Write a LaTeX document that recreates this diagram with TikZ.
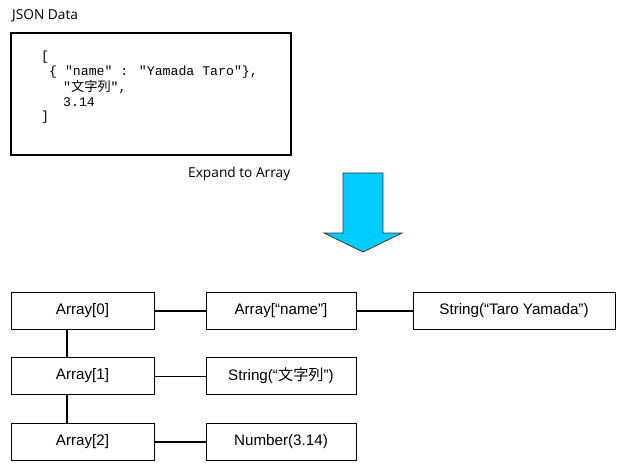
\documentclass[tikz,border=0pt]{standalone}
\usepackage{fontspec}
\setmainfont{Liberation Sans}
\newfontfamily\uifont{Open Sans}
\newfontfamily\codefont{Liberation Mono}
\newfontfamily\cjkfont{Noto Sans CJK JP}
\definecolor{arrowblue}{HTML}{00CCFF}
\tikzset{
	box/.style={draw, line width=1pt, minimum height=37pt, inner sep=0pt, font=\fontsize{15.2}{18}\selectfont},
	code/.style={anchor=west, inner sep=0pt, font=\codefont\fontsize{13.2}{15}\selectfont},
	caption/.style={anchor=west, inner sep=0pt, font=\uifont\fontsize{13.7}{16}\selectfont},
	link/.style={line width=2pt},
	thinlink/.style={line width=1pt}
}
\begin{document}
\begin{tikzpicture}[x=1pt,y=-1pt]
	\useasboundingbox (0,0) rectangle (626,473);
	% le bloc JSON
	\node[caption] (title) at (12,16) {JSON Data};
	\draw[line width=2pt] (11,33) rectangle (291,155);
	\node[code] (l1) at (41,57) {[};
	\node[code] (l2) at (49,72) {\{ "name" : "Yamada Taro"\},};
	\node[code] (l3) at (63,87) {"{\cjkfont 文字列}",};
	\node[code] (l4) at (63,102) {3.14};
	\node[code] (l5) at (41,117) {]};
	% la fleche
	\node[caption] (expand) at (188,174) {Expand to Array};
	\filldraw[fill=arrowblue, draw=black!80, line width=0.8pt]
		(343,173) -- (383,173) -- (383,233) -- (402,233) -- (363,252) -- (324,233) -- (343,233) -- cycle;
	% les boites
	\node[box, minimum width=143pt] (a0) at (82.5,310.5) {Array[0]};
	\node[box, minimum width=143pt] (a1) at (82.5,376) {Array[1]};
	\node[box, minimum width=143pt] (a2) at (82.5,441.5) {Array[2]};
	\node[box, minimum width=150pt] (name) at (281,310.5) {Array[“name”]};
	\node[box, minimum width=150pt] (str) at (281,376) {String(“{\cjkfont 文字列}”)};
	\node[box, minimum width=150pt] (num) at (281,441.5) {Number(3.14)};
	\node[box, minimum width=202pt] (taro) at (514,310.5) {String(“Taro Yamada”)};
	% les liens
	\draw[link] (a0) -- (name);
	\draw[link] (name) -- (taro);
	\draw[thinlink] (a1) -- (str);
	\draw[link] (a2) -- (num);
	\draw[link] ([xshift=-15.5pt]a0.south) -- ([xshift=-15.5pt]a1.north);
	\draw[link] ([xshift=-15.5pt]a1.south) -- ([xshift=-15.5pt]a2.north);
\end{tikzpicture}
\end{document}
